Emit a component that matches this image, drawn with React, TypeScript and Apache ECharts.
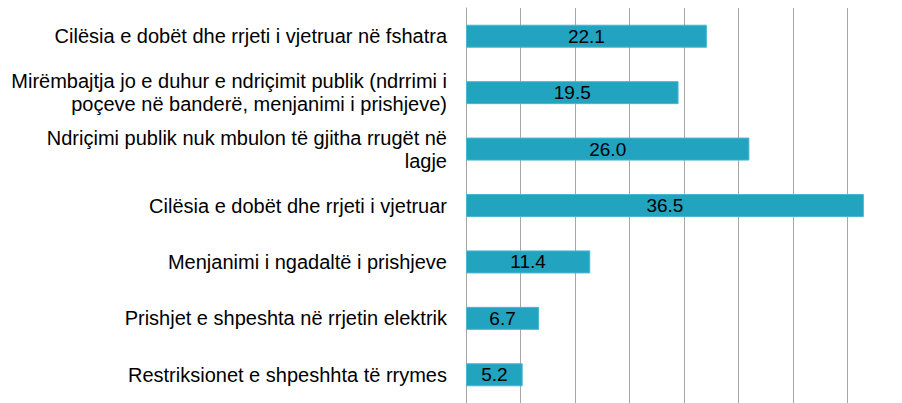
import React, { useEffect, useRef } from "react";
import * as echarts from "echarts";

const categories: string[] = [
  "Cilësia e dobët dhe rrjeti i vjetruar në fshatra",
  "Mirëmbajtja jo e duhur e ndriçimit publik (ndrrimi i\npoçeve në banderë, menjanimi i prishjeve)",
  "Ndriçimi publik nuk mbulon të gjitha rrugët në\nlagje",
  "Cilësia e dobët dhe rrjeti i vjetruar",
  "Menjanimi i ngadaltë i prishjeve",
  "Prishjet e shpeshta në rrjetin elektrik",
  "Restriksionet e shpeshhta të rrymes",
];
const values: number[] = [22.1, 19.5, 26.0, 36.5, 11.4, 6.7, 5.2];

export default function App() {
  const ref = useRef<HTMLDivElement>(null);
  useEffect(() => {
    if (!ref.current) return;
    const chart = echarts.init(ref.current, null, { renderer: "svg" });
    chart.setOption({
      animation: false,
      backgroundColor: "#ffffff",
      grid: { left: 466, right: -1, top: 8, bottom: -4, containLabel: false },
      xAxis: {
        type: "value",
        min: 0,
        max: 40,
        interval: 5,
        axisLabel: { show: false },
        axisLine: { show: false },
        axisTick: { show: false },
        splitLine: { show: true, lineStyle: { color: "#a6a6a6", width: 1 } },
      },
      yAxis: {
        type: "category",
        data: categories,
        inverse: true,
        axisTick: { show: false },
        axisLine: { show: true, lineStyle: { color: "#a6a6a6", width: 1 } },
        axisLabel: {
          margin: 19,
          color: "#000000",
          fontFamily: "Liberation Sans, Arial, sans-serif",
          fontSize: 20,
          lineHeight: 23,
          align: "right",
        },
      },
      series: [
        {
          type: "bar",
          data: values,
          barWidth: 23,
          itemStyle: { color: "#22a3c0", borderColor: "#4bb6cf", borderWidth: 1 },
          label: {
            show: true,
            position: "inside",
            color: "#000000",
            fontFamily: "Liberation Sans, Arial, sans-serif",
            fontSize: 19,
            formatter: (p: any) => Number(p.value).toFixed(1),
          },
        },
      ],
    });
    return () => chart.dispose();
  }, []);
  return (
    <div
      ref={ref}
      style={{ position: "absolute", left: 0, top: 0, width: 902, height: 403 }}
    />
  );
}
